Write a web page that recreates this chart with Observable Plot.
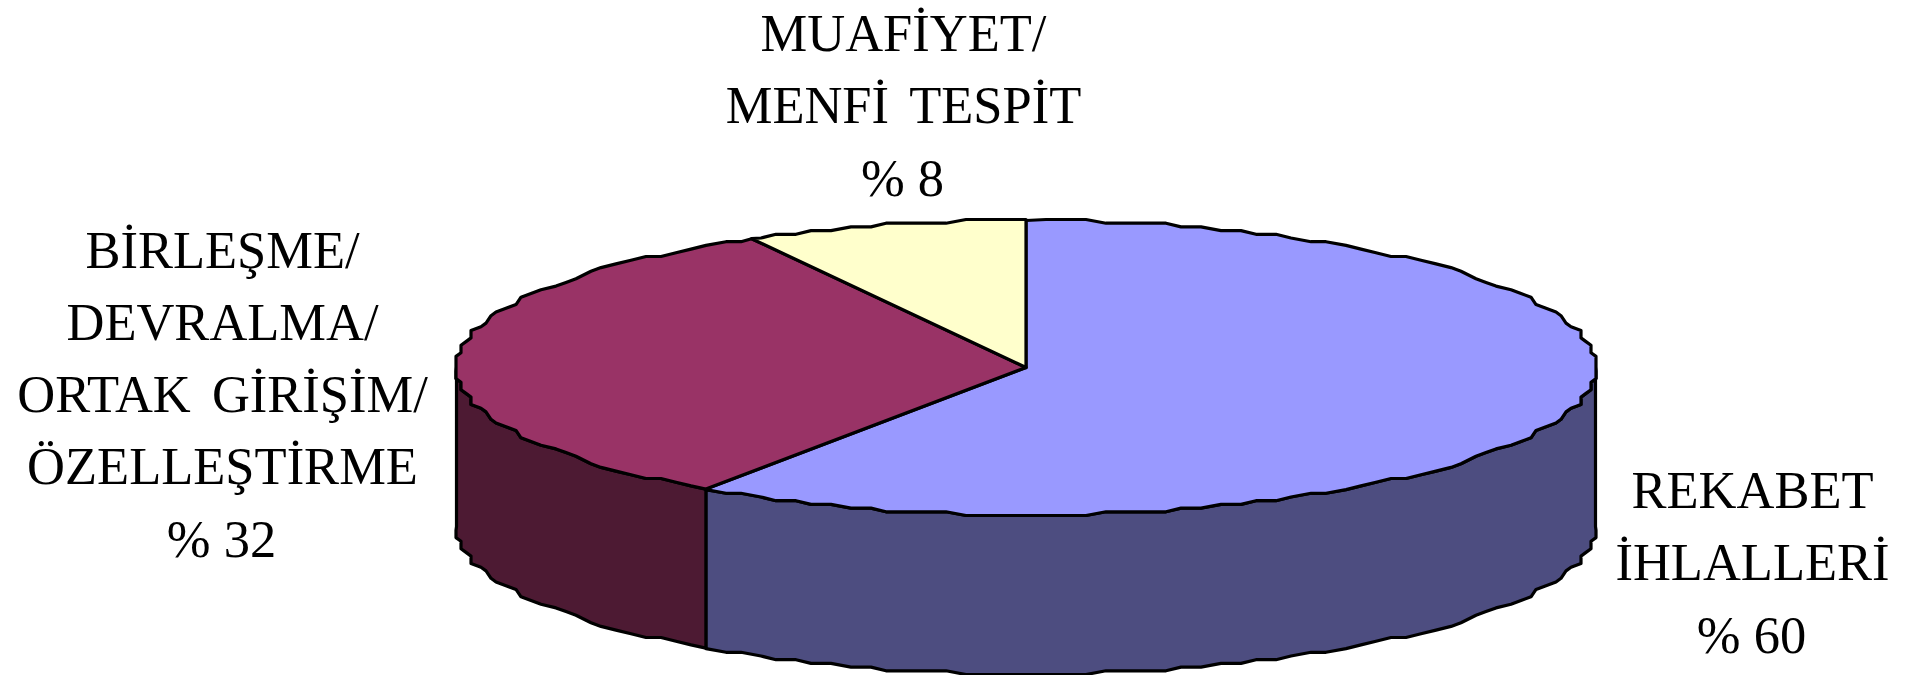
<!DOCTYPE html>
<html lang="tr">
<head>
<meta charset="utf-8">
<script src="https://cdn.jsdelivr.net/npm/d3@7"></script>
<script src="https://cdn.jsdelivr.net/npm/@observablehq/plot@0.6"></script>
<style>html,body{margin:0;padding:0;background:#fff}svg{display:block}svg .names text,svg text.names{word-spacing:8px}</style>
</head>
<body>
<div id="chart"></div>
<script>
// Chart values
const categories = ["REKABET\nİHLALLERİ", "BİRLEŞME/\nDEVRALMA/\nORTAK GİRİŞİM/\nÖZELLEŞTİRME", "MUAFİYET/\nMENFİ TESPİT"];
const percentLabels = ["% 60", "% 32", "% 8"];
const drawnShares = [59.5, 32.5, 8]; // slice sizes as they appear after the 3D tilt
const topColors = ["#9999FF", "#993366", "#FFFFCC"];
const sideColors = ["#4D4D80", "#4D1A33", "#808066"];

// Layout
const W = 1914, H = 675;
const cx = 1025.5, cy = 367, rx = 569.5, ry = 147, depth = 159;
const gridX = 5, gridY = 3.7, stepDeg = 2;
const labelX = [1752, 222, 903];
const nameY = [520.5, 352.5, 63.5];
const percentY = [629.5, 533.5, 172.5];

const snap = (v, g) => Math.round(v / g) * g;
const exact = (deg) => {
  const a = deg * Math.PI / 180;
  return [cx + rx * Math.sin(a), cy - ry * Math.cos(a)];
};
const rough = (deg) => {
  const [x, y] = exact(deg);
  return [cx + snap(x - cx, gridX), cy + snap(y - cy, gridY)];
};
// Outline of the rim: ends are exact; between them every face shares one angle grid, so walls and tops coincide
const arc = (a0, a1) => {
  const pts = [exact(a0)];
  for (let k = Math.floor(a0 / stepDeg) + 1; k * stepDeg < a1; k++) pts.push(rough(k * stepDeg));
  pts.push(exact(a1));
  return pts;
};

const bounds = [0];
drawnShares.forEach((s, i) => bounds.push(bounds[i] + s * 3.6));

const marks = [];
const face = (pts, fill) => marks.push(Plot.line([...pts, pts[0]], {x: d => d[0], y: d => d[1], fill, stroke: "#000", strokeWidth: 3.2}));

// Visible side walls: from the right extreme round the front to the left extreme
const clipped = bounds.slice(0, -1).map((b, i) => [Math.max(b, 90), Math.min(bounds[i + 1], 270), i]).filter(d => d[0] < d[1]);
for (const [a0, a1, i] of clipped) {
  const rim = arc(a0, a1);
  face([...rim, ...rim.slice().reverse().map(p => [p[0], p[1] + depth])], sideColors[i]);
}
// Top faces
drawnShares.forEach((s, i) => face([[cx, cy], ...arc(bounds[i], bounds[i + 1])], topColors[i]));

const textStyle = {
  lineAnchor: "middle",
  lineHeight: 1.371,
  fontSize: 52.5,
  fontFamily: "'Liberation Serif', serif",
  fill: "#000",
  textAnchor: "middle"
};
marks.push(Plot.text(categories, {...textStyle, className: "names", x: (d, i) => labelX[i], y: (d, i) => nameY[i], text: d => d}));
marks.push(Plot.text(percentLabels, {...textStyle, x: (d, i) => labelX[i] - 1, y: (d, i) => percentY[i], text: d => d}));

document.getElementById("chart").append(Plot.plot({
  width: W, height: H,
  margin: 0,
  style: {background: "#fff"},
  x: {domain: [0, W], range: [0, W], axis: null},
  y: {domain: [0, H], range: [0, H], axis: null},
  marks
}));
</script>
</body>
</html>
